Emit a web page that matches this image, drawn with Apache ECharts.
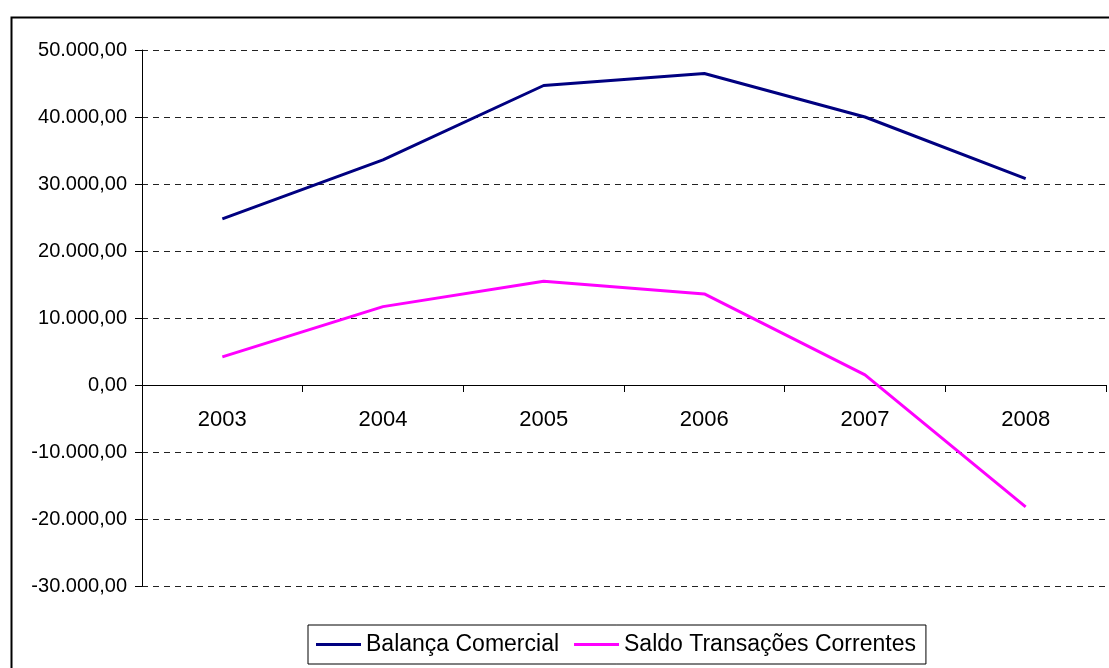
<!DOCTYPE html>
<html>
<head>
<meta charset="utf-8">
<script src="https://cdn.jsdelivr.net/npm/echarts@6/dist/echarts.min.js"></script>
<style>
  html, body { margin: 0; padding: 0; background: #fff; }
  #chart { width: 1109px; height: 668px; }
</style>
</head>
<body>
<div id="chart"></div>
<script>
// anos e valores (US$ milhões)
const years = ['2003', '2004', '2005', '2006', '2007', '2008']
const balancaComercial = [24800, 33600, 44700, 46500, 40000, 30800]
const saldoTransacoes = [4200, 11700, 15500, 13600, 1500, -18200]
const seriesNames = ['Balança Comercial', 'Saldo Transações Correntes']

// 50.000,00 / -10.000,00
function fmt(v) {
  const s = Math.abs(v).toFixed(0).replace(/\B(?=(\d{3})+(?!\d))/g, '.')
  return (v < 0 ? '-' : '') + s + ',00'
}

const chart = echarts.init(document.getElementById('chart'))
chart.setOption({
  animation: false,
  textStyle: { fontFamily: 'Liberation Sans, Arial, sans-serif' },
  color: ['#000080', '#ff00ff'],
  graphic: [{
    type: 'rect',
    left: 9,
    top: 15,
    shape: { width: 1200, height: 700 },
    style: { fill: 'none', stroke: '#000', lineWidth: 2 },
    silent: true
  }],
  grid: {
    left: 142,
    right: 3,
    top: 50,
    bottom: 82,
    containLabel: false
  },
  legend: {
    left: 308,
    top: 625,
    padding: [8, 10, 8, 8],
    borderColor: '#000',
    borderWidth: 1,
    itemGap: 15,
    itemWidth: 45,
    itemHeight: 3,
    icon: 'rect',
    textStyle: { fontSize: 23, color: '#000', fontFamily: 'Liberation Sans, Arial, sans-serif' },
    data: seriesNames
  },
  xAxis: {
    type: 'category',
    data: years,
    boundaryGap: true,
    axisLine: { onZero: true, lineStyle: { color: '#000', width: 1 } },
    axisTick: { show: true, length: 7, lineStyle: { color: '#000' } },
    // rótulos ficam logo abaixo da linha do zero, como no original
    axisLabel: { fontSize: 22, color: '#000', margin: -177 },
    splitLine: { show: false }
  },
  yAxis: {
    type: 'value',
    min: -30000,
    max: 50000,
    interval: 10000,
    axisLine: { show: true, lineStyle: { color: '#000', width: 1 } },
    axisTick: { show: true, length: 7, lineStyle: { color: '#000' } },
    axisLabel: { fontSize: 20, color: '#000', margin: 15, formatter: fmt },
    splitLine: { show: true, lineStyle: { color: '#222', width: 1, type: [6, 5] } }
  },
  series: [
    {
      name: seriesNames[0],
      type: 'line',
      data: balancaComercial,
      symbol: 'none',
      lineStyle: { width: 3 }
    },
    {
      name: seriesNames[1],
      type: 'line',
      data: saldoTransacoes,
      symbol: 'none',
      lineStyle: { width: 3 }
    }
  ]
})
</script>
</body>
</html>
